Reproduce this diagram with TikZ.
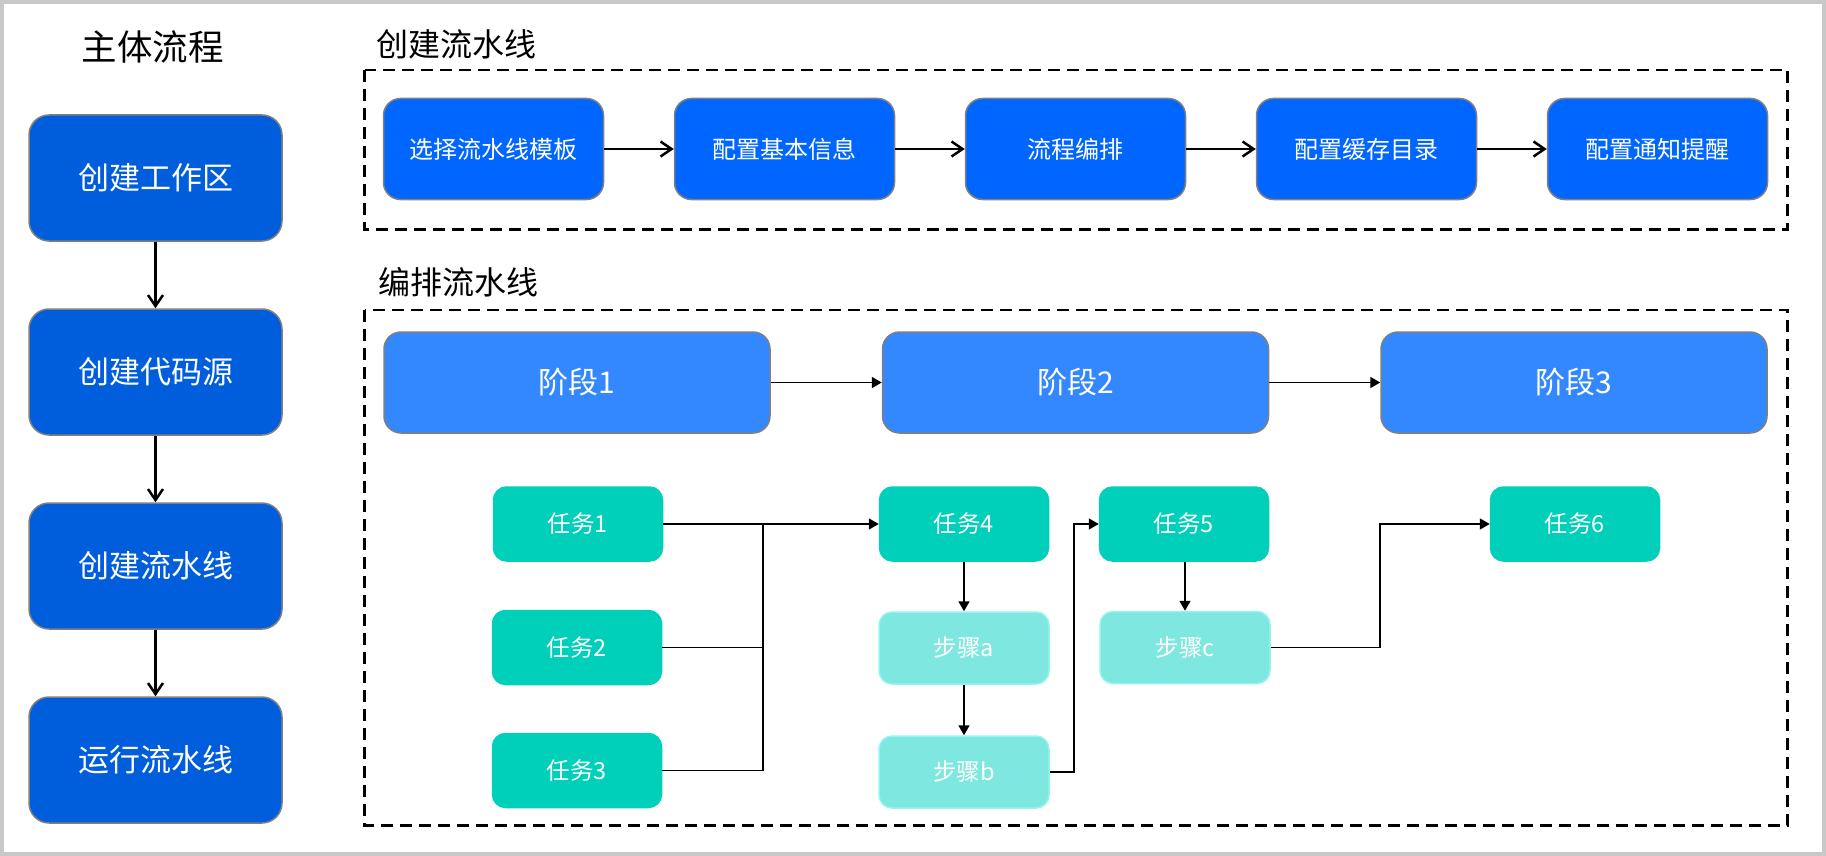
\documentclass[tikz,border=0pt]{standalone}
\usepackage{fontspec}
\setmainfont{Noto Sans CJK SC}
\usepackage{tikz}
\usetikzlibrary{arrows.meta, positioning, calc}
\definecolor{mainFill}{HTML}{005EDC}
\definecolor{cfgFill}{HTML}{0066FF}
\definecolor{stageFill}{HTML}{3388FF}
\definecolor{taskFill}{HTML}{00D0B9}
\definecolor{stepFill}{HTML}{7EE7DF}
\definecolor{stepStroke}{HTML}{94F5EF}
\definecolor{boxStroke}{HTML}{808080}
\definecolor{frameGray}{HTML}{C8C8C8}
\tikzset{
  base/.style={
    rectangle, align=center,
    inner sep=0pt,
    text=white, line width=1.5pt
  },
  mainbox/.style={base, minimum width=253pt, minimum height=126pt,
    rounded corners=20pt, fill=mainFill, draw=boxStroke,
    font=\fontsize{31}{37}\selectfont},
  cfgbox/.style={base, minimum width=220pt, minimum height=101pt,
    rounded corners=17pt, fill=cfgFill, draw=boxStroke,
    font=\fontsize{24}{29}\selectfont},
  stagebox/.style={base, minimum width=386pt, minimum height=101pt,
    rounded corners=17pt, fill=stageFill, draw=boxStroke,
    font=\fontsize{30}{36}\selectfont},
  taskbox/.style={base, minimum width=169pt, minimum height=74pt,
    rounded corners=13pt, fill=taskFill, draw=taskFill,
    font=\fontsize{23.5}{28}\selectfont},
  stepbox/.style={taskbox, minimum width=170pt, minimum height=72pt,
    fill=stepFill, draw=stepStroke},
  heading/.style={font=\fontsize{32}{38}\selectfont, inner sep=0pt},
  groupframe/.style={draw=black, line width=2.6pt, dash pattern=on 12pt off 7pt},
  flow/.style={-{Straight Barb[length=11pt,width=15pt]}, line width=2.5pt},
  link/.style={-{Triangle[length=10pt,width=11pt]}, line width=1.7pt},
  wire/.style={line width=1.7pt},
}
\begin{document}
\begin{tikzpicture}[x=1pt, y=-1pt]
    \useasboundingbox (0,0) rectangle (1826,856);
    \draw[frameGray, line width=4pt] (2,2) rectangle (1824,854);

    % main flow
    \node[heading, font=\fontsize{35.5}{42}\selectfont] (title) at (152.5,47) {主体流程};
    \node[mainbox] (workspace) at (155.5,178) {创建工作区};
    \node[mainbox, below=66.5pt of workspace] (coderepo) {创建代码源};
    \node[mainbox, below=66.5pt of coderepo] (newpipe) {创建流水线};
    \node[mainbox, below=66.5pt of newpipe] (runpipe) {运行流水线};

    \draw[flow] (workspace) -- (coderepo);
    \draw[flow] (coderepo) -- (newpipe);
    \draw[flow] (newpipe) -- (runpipe);

    % create pipeline
    \node[heading, anchor=west] (createlbl) at (376,44) {创建流水线};
    \draw[groupframe] (364.5,70) rectangle (1787.5,229.5);
    \node[cfgbox] (template) at (493.5,149) {选择流水线模板};
    \node[cfgbox, right=69.5pt of template] (basicinfo) {配置基本信息};
    \node[cfgbox, right=69.5pt of basicinfo] (arrange) {流程编排};
    \node[cfgbox, right=69.5pt of arrange] (cache) {配置缓存目录};
    \node[cfgbox, right=69.5pt of cache] (notify) {配置通知提醒};

    \draw[flow] (template) -- (basicinfo);
    \draw[flow] (basicinfo) -- (arrange);
    \draw[flow] (arrange) -- (cache);
    \draw[flow] (cache) -- (notify);

    % arrange pipeline
    \node[heading, anchor=west] (arrangelbl) at (378,282) {编排流水线};
    \draw[groupframe] (364.5,310) rectangle (1787.5,825.5);
    \node[stagebox] (stage1) at (577,382.5) {阶段1};
    \node[stagebox, right=111pt of stage1] (stage2) {阶段2};
    \node[stagebox, right=111pt of stage2] (stage3) {阶段3};

    \draw[link] (stage1) -- (stage2);
    \draw[link] (stage2) -- (stage3);

    \node[taskbox] (task1) at (578,524) {任务1};
    \node[taskbox] (task2) at (577,647.5) {任务2};
    \node[taskbox] (task3) at (577,770.5) {任务3};
    \node[taskbox] (task4) at (964,524) {任务4};
    \node[stepbox] (stepa) at (964,648) {步骤a};
    \node[stepbox] (stepb) at (964,772) {步骤b};
    \node[taskbox] (task5) at (1184,524) {任务5};
    \node[stepbox] (stepc) at (1185,647.5) {步骤c};
    \node[taskbox] (task6) at (1575,524) {任务6};

    \coordinate (merge) at (763,524);
    \draw[link] (task1) -- (task4);
    \draw[wire] (task2) -| (merge);
    \draw[wire] (task3) -| (merge);
    \draw[link] (task4) -- (stepa);
    \draw[link] (stepa) -- (stepb);
    \draw[link] (stepb.east) -- ++(24,0) |- (task5.west);
    \draw[link] (task5.south -| stepc.north) -- (stepc);
    \draw[link] (stepc.east) -- (stepc.east -| stage3.west) |- (task6.west);
  \end{tikzpicture}
\end{document}
